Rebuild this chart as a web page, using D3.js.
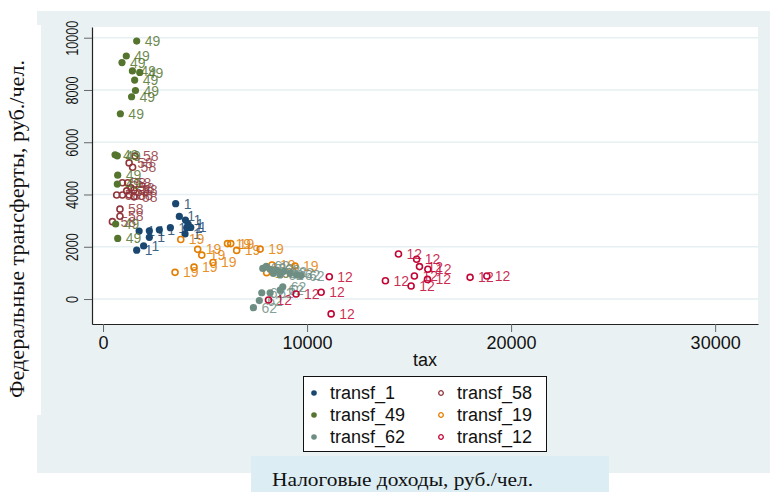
<!DOCTYPE html>
<html>
<head>
<meta charset="utf-8">
<script src="https://d3js.org/d3.v7.min.js"></script>
<style>
  body { margin: 0; background: #fff; }
  svg { display: block; }
</style>
</head>
<body>
<div id="chart"></div>
<script>
// Data: tax (x) and transfers (y) for each region
const tax1  = [3560, 3740, 4040, 4170, 4300, 4100, 4020, 3300, 2760, 2270, 1770, 2270, 1990, 1650];
const tr1   = [3650, 3160, 3020, 2870, 2740, 2730, 2490, 2730, 2650, 2610, 2600, 2360, 2030, 1870];

const tax58 = [1570, 1280, 1450, 950, 1210, 1370, 1160, 1520, 670, 950, 1280, 1520, 830, 830, 460];
const tr58  = [5470, 5210, 5040, 4450, 4450, 4260, 4140, 4170, 3980, 3980, 3980, 3910, 3440, 3170, 2960];

const tax49 = [1650, 1140, 930, 1440, 1800, 1550, 1590, 1400, 850, 590, 700, 720, 700, 620, 720];
const tr49  = [9870, 9300, 9050, 8730, 8670, 8380, 7980, 7740, 7090, 5520, 5480, 4740, 4400, 2870, 2320];

const tax19 = [3810, 4640, 4840, 6100, 6260, 6550, 7700, 5390, 4460, 3530, 8020, 8280, 9410];
const tr19  = [2280, 1900, 1680, 2120, 2120, 1860, 1910, 1400, 1220, 1020, 1010, 1300, 1260];

const tax62 = [7830, 8190, 8510, 8840, 9170, 9490, 8680, 8350, 8000, 9700, 8810, 8680, 7780, 8190, 7660, 7370];
const tr62  = [1170, 1140, 1110, 1050, 980, 920, 920, 980, 1250, 900, 470, 340, 240, 240, -60, -330];

const tax12 = [8110, 9460, 10690, 11090, 11180, 13840, 14480, 15370, 15510, 15920, 15260, 15900, 15100, 17990, 18810];
const tr12  = [-40, 190, 260, 850, -570, 700, 1720, 1520, 1240, 1140, 880, 750, 500, 830, 880];

const seriesNames = ["transf_1", "transf_58", "transf_49", "transf_19", "transf_62", "transf_12"];
const seriesLabels = ["1", "58", "49", "19", "62", "12"];
const xTicks = [0, 10000, 20000, 30000];
const yTicks = [0, 2000, 4000, 6000, 8000, 10000];

// Stata s2color style
const colors = ["#1a476f", "#90353b", "#55752f", "#e37e00", "#6e8e84", "#c10534"];
const hollow = [false, true, false, true, false, true];

const series = [
    [tax1, tr1], [tax58, tr58], [tax49, tr49], [tax19, tr19], [tax62, tr62], [tax12, tr12]
].map(([xs, ys], i) => ({
    name: seriesNames[i],
    label: seriesLabels[i],
    color: colors[i],
    hollow: hollow[i],
    points: xs.map((v, j) => ({ x: v, y: ys[j] }))
}));

const width = 770, height = 492;
const plot = { left: 92, right: 758, top: 27, bottom: 324 };

const svg = d3.select("#chart").append("svg")
    .attr("width", width)
    .attr("height", height);

// Graph region background (slightly uneven edges as in the source image)
const panel = "#e9f1f3";
svg.append("rect").attr("x", 37).attr("y", 11).attr("width", 733).attr("height", 14).attr("fill", panel);
svg.append("rect").attr("x", 41).attr("y", 25).attr("width", 729).attr("height", 391).attr("fill", panel);
svg.append("rect").attr("x", 37).attr("y", 415).attr("width", 733).attr("height", 58).attr("fill", panel);

// Plot region
svg.append("rect")
    .attr("x", plot.left).attr("y", plot.top)
    .attr("width", plot.right - plot.left).attr("height", plot.bottom - plot.top)
    .attr("fill", "#fff");

const x = d3.scaleLinear().domain([-540, 32100]).range([plot.left, plot.right]);
const y = d3.scaleLinear().domain([-956, 10410]).range([plot.bottom, plot.top]);

// Grid lines
svg.append("g").selectAll("line")
    .data(yTicks)
    .enter().append("line")
    .attr("x1", plot.left).attr("x2", plot.right)
    .attr("y1", d => y(d)).attr("y2", d => y(d))
    .attr("stroke", "#e6eff1")
    .attr("stroke-width", 1.5);

// X axis
const xAxis = svg.append("g")
    .attr("transform", `translate(0,${plot.bottom})`)
    .call(d3.axisBottom(x).tickValues(xTicks).tickSizeInner(8).tickSizeOuter(0).tickPadding(4).tickFormat(d3.format("d")));
xAxis.select(".domain").attr("stroke", "#222").attr("stroke-width", 1.2);
xAxis.selectAll(".tick line").attr("stroke", "#666");
xAxis.selectAll(".tick text")
    .attr("font-family", "Liberation Sans, Arial, sans-serif")
    .attr("font-size", 18)
    .attr("fill", "#111");

// Y axis
const yAxis = svg.append("g")
    .attr("transform", `translate(${plot.left},0)`)
    .call(d3.axisLeft(y).tickValues(yTicks).tickSizeInner(8).tickSizeOuter(0).tickFormat(d3.format("d")));
yAxis.select(".domain").attr("stroke", "#222").attr("stroke-width", 1.2);
yAxis.selectAll(".tick line").attr("stroke", "#666");
yAxis.selectAll(".tick text").remove();
yAxis.selectAll(".tick").append("text")
    .attr("transform", "translate(-14,0) rotate(-90) scale(0.79,1)")
    .attr("text-anchor", "middle")
    .attr("font-family", "Liberation Sans, Arial, sans-serif")
    .attr("font-size", 16)
    .attr("fill", "#111")
    .text(d => d);

// Axis titles
svg.append("text")
    .attr("x", (plot.left + plot.right) / 2)
    .attr("y", 366)
    .attr("text-anchor", "middle")
    .attr("font-family", "Liberation Sans, Arial, sans-serif")
    .attr("font-size", 18)
    .attr("fill", "#111")
    .text("tax");

svg.append("text")
    .attr("transform", "translate(24,229) rotate(-90)")
    .attr("text-anchor", "middle")
    .attr("font-family", "Liberation Serif, Times New Roman, serif")
    .attr("font-size", 20)
    .attr("fill", "#111")
    .attr("textLength", 338)
    .attr("lengthAdjust", "spacingAndGlyphs")
    .text("Федеральные трансферты, руб./чел.");

// Markers and marker labels
const marks = svg.append("g");
series.forEach(s => {
    const g = marks.append("g").attr("class", "series");
    g.selectAll("circle")
        .data(s.points)
        .enter().append("circle")
        .attr("cx", d => x(d.x))
        .attr("cy", d => y(d.y))
        .attr("r", s.hollow ? 3 : 3.6)
        .attr("fill", s.hollow ? "none" : s.color)
        .attr("stroke", s.hollow ? s.color : "none")
        .attr("stroke-width", 1.6);
    g.selectAll("text")
        .data(s.points)
        .enter().append("text")
        .attr("x", d => x(d.x) + 8)
        .attr("y", d => y(d.y))
        .attr("dy", "0.36em")
        .attr("font-family", "Liberation Sans, Arial, sans-serif")
        .attr("font-size", 14)
        .attr("fill", s.color)
        .attr("fill-opacity", 0.85)
        .text(s.label);
});

// Legend
const legend = svg.append("g");
legend.append("rect")
    .attr("x", 303.5).attr("y", 376.5)
    .attr("width", 243).attr("height", 75)
    .attr("fill", "#fff")
    .attr("stroke", "#111")
    .attr("stroke-width", 1);

const item = legend.selectAll(".item")
    .data(series)
    .enter().append("g")
    .attr("class", "item")
    .attr("transform", (d, i) => `translate(${i % 2 === 0 ? 314 : 441},${393 + Math.floor(i / 2) * 22})`);
item.append("circle")
    .attr("r", d => d.hollow ? 2.3 : 2.8)
    .attr("fill", d => d.hollow ? "none" : d.color)
    .attr("stroke", d => d.hollow ? d.color : "none")
    .attr("stroke-width", 1.3);
item.append("text")
    .attr("x", 16)
    .attr("dy", "0.36em")
    .attr("font-family", "Liberation Sans, Arial, sans-serif")
    .attr("font-size", 18)
    .attr("fill", "#111")
    .text(d => d.name);

// Caption box below the graph
svg.append("rect")
    .attr("x", 251).attr("y", 456)
    .attr("width", 358).attr("height", 36)
    .attr("fill", "#dcedf3");
svg.append("text")
    .attr("x", 272).attr("y", 486)
    .attr("font-family", "Liberation Serif, Times New Roman, serif")
    .attr("font-size", 19)
    .attr("fill", "#111")
    .attr("textLength", 261)
    .attr("lengthAdjust", "spacingAndGlyphs")
    .text("Налоговые доходы, руб./чел.");
</script>
</body>
</html>
